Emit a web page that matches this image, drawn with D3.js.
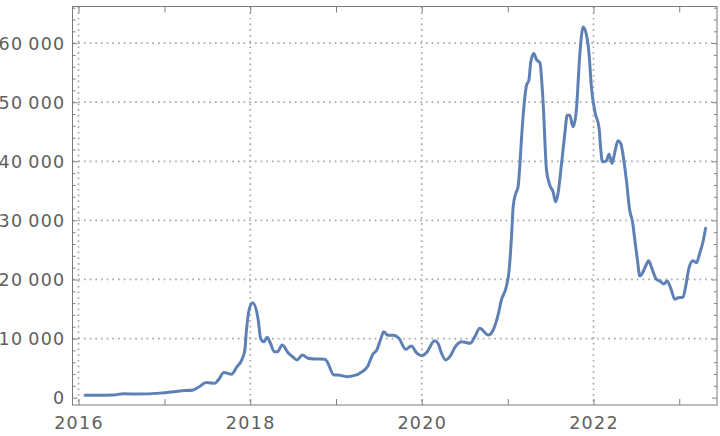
<!DOCTYPE html>
<html>
<head>
<meta charset="utf-8">
<script src="https://cdn.jsdelivr.net/npm/d3@7"></script>
<style>
  html, body { margin: 0; padding: 0; background: #fff; }
  svg { display: block; }
  .lbl text { font-family: "DejaVu Sans", sans-serif; font-size: 17.5px; fill: #5e5e5e; letter-spacing: 1.3px; }
</style>
</head>
<body>
<svg id="chart" width="720" height="436"></svg>
<script>
// ---- data ----
const dates = ["2016-01-29","2016-04-01","2016-05-28","2016-07-10","2016-09-11","2016-12-13",
"2017-03-08","2017-05-04","2017-05-25","2017-06-29","2017-08-03","2017-08-18","2017-09-11","2017-10-13","2017-11-04","2017-11-29","2017-12-09","2017-12-16","2017-12-27",
"2018-01-11","2018-02-04","2018-02-14","2018-02-28","2018-03-14","2018-03-28","2018-04-13","2018-04-27","2018-05-17","2018-06-11","2018-07-03","2018-07-19","2018-08-11","2018-09-04","2018-10-03","2018-11-14","2018-11-24","2018-12-23",
"2019-01-17","2019-02-15","2019-03-29","2019-04-12","2019-05-17","2019-06-05","2019-06-25","2019-07-13","2019-07-23","2019-08-10","2019-09-01","2019-09-26","2019-10-25","2019-11-18","2019-12-09",
"2020-01-01","2020-01-21","2020-02-25","2020-03-10","2020-03-25","2020-04-12","2020-04-29","2020-05-28","2020-06-18","2020-07-26","2020-08-14","2020-09-04","2020-10-10","2020-10-31","2020-11-21","2020-12-05","2020-12-24",
"2021-01-07","2021-01-17","2021-01-24","2021-02-04","2021-02-14","2021-02-22","2021-03-01","2021-03-15","2021-03-22","2021-04-01","2021-04-09","2021-04-22","2021-05-03","2021-05-18","2021-05-31","2021-06-15","2021-06-29","2021-07-13","2021-07-24","2021-08-03","2021-08-18","2021-09-01","2021-09-11","2021-09-22","2021-10-06","2021-10-20","2021-11-04","2021-11-18","2021-12-05","2021-12-13","2021-12-23",
"2022-01-07","2022-01-25","2022-01-31","2022-02-08","2022-02-25","2022-03-08","2022-03-21","2022-04-02","2022-04-15","2022-04-27","2022-05-10","2022-05-21","2022-06-04","2022-06-16","2022-06-26","2022-07-07","2022-07-17","2022-07-31","2022-08-11","2022-08-24","2022-09-04","2022-09-26","2022-10-14","2022-10-27","2022-11-10","2022-11-26","2022-12-13","2022-12-27",
"2023-01-17","2023-01-28","2023-02-11","2023-02-28","2023-03-15","2023-03-29","2023-04-12","2023-04-23"];

const prices = [380,410,450,650,600,760,
1130,1300,1750,2540,2430,3000,4230,3960,5140,6660,8060,11450,14830,
16070,13140,10040,9470,10210,9200,7780,7780,8910,7610,6830,6380,7220,6660,6540,6490,6090,3840,
3790,3550,3840,4130,5360,7220,8180,10210,11160,10550,10550,10040,8180,8740,7610,
7100,7610,9640,9200,7510,6380,6930,8910,9470,9200,10320,11740,10600,11450,13990,16520,18500,
21590,27230,32300,34560,35680,39640,44140,50900,52880,53720,56820,58240,57230,56650,50340,38500,35970,34830,33140,34560,39640,44710,47800,47800,45830,48650,58240,62740,60780,58240,52590,
48370,45560,42450,39910,40080,41210,39640,41600,43460,43020,40200,36810,31740,29760,26670,23290,20580,21300,22270,23170,22150,20020,19620,19230,19730,18500,16640,16910,
16980,18770,21880,23170,22830,24420,26380,28650];

const yearTicks = [2016,2017,2018,2019,2020,2021,2022,2023];
const yearLabels = [2016,2018,2020,2022];
const yMajor = [0,10000,20000,30000,40000,50000,60000];
const yGrid = [10000,20000,30000,40000,50000,60000];

// ---- layout ----
const L = 72.5, R = 717, T = 6.5, B = 405;
const svg = d3.select("#chart");
const parse = d3.utcParse("%Y-%m-%d");
const data = d3.zip(dates, prices).map(([d, v]) => ({ date: parse(d), value: v }));

// x anchored so 2016 and 2022 fall on their grid lines, then extended to the frame
const x0 = d3.scaleUtc().domain([Date.UTC(2016,0,1), Date.UTC(2022,0,1)]).range([78.5, 593.5]);
const x = d3.scaleUtc().domain([x0.invert(L), x0.invert(R)]).range([L, R]);
const y = d3.scaleLinear().domain([-1250, 66200]).range([B, T]);

const yearDate = yr => new Date(Date.UTC(yr, 0, 1));
const yMinor = d3.range(0, 66001, 2000).filter(v => v % 10000 !== 0);
const fmt = v => v === 0 ? "0" : d3.format(",")(v).replace(/,/g, "\u2009");

// grid lines
const grid = svg.append("g").attr("stroke", "#a8a8a8").attr("stroke-width", 1.7).attr("stroke-dasharray", "1.7 4");
grid.selectAll("line.h").data(yGrid).join("line").attr("class","h")
  .attr("x1", L).attr("x2", R).attr("y1", d => y(d)).attr("y2", d => y(d));
grid.selectAll("line.v").data(yearLabels).join("line").attr("class","v")
  .attr("y1", T).attr("y2", B).attr("x1", d => x(yearDate(d))).attr("x2", d => x(yearDate(d)));

// axes
function styleAxis(g) {
  g.select(".domain").remove();
  g.selectAll(".tick line").attr("stroke", "#808080").attr("stroke-width", 1);
}
const leftMaj = svg.append("g").attr("class","lbl").attr("transform", `translate(${L},0)`)
  .call(d3.axisLeft(y).tickValues(yMajor).tickSize(-5).tickPadding(7).tickFormat(fmt)).call(styleAxis);
leftMaj.selectAll("text").attr("dy", "0.36em");
svg.append("g").attr("transform", `translate(${L},0)`)
  .call(d3.axisLeft(y).tickValues(yMinor).tickSize(-3).tickFormat("")).call(styleAxis);
svg.append("g").attr("transform", `translate(${R},0)`)
  .call(d3.axisRight(y).tickValues(yMajor).tickSize(-5).tickFormat("")).call(styleAxis);
svg.append("g").attr("transform", `translate(${R},0)`)
  .call(d3.axisRight(y).tickValues(yMinor).tickSize(-3).tickFormat("")).call(styleAxis);

svg.append("g").attr("class","lbl").attr("transform", `translate(0,${B})`)
  .call(d3.axisBottom(x).tickValues(yearTicks.map(yearDate)).tickSize(-6).tickPadding(12)
    .tickFormat(d => yearLabels.includes(d.getUTCFullYear()) ? d.getUTCFullYear() : ""))
  .call(styleAxis);
svg.append("g").attr("transform", `translate(0,${T})`)
  .call(d3.axisTop(x).tickValues(yearTicks.map(yearDate)).tickSize(-6).tickFormat(""))
  .call(styleAxis);

// frame
svg.append("rect").attr("x", L).attr("y", T).attr("width", R - L).attr("height", B - T)
  .attr("fill", "none").attr("stroke", "#7a7a7a").attr("stroke-width", 1);

// series
const line = d3.line().x(d => x(d.date)).y(d => y(d.value)).curve(d3.curveMonotoneX);
svg.append("path").datum(data).attr("d", line)
  .attr("fill", "none").attr("stroke", "#5e81b5").attr("stroke-width", 3)
  .attr("stroke-linejoin", "round").attr("stroke-linecap", "round");
</script>
</body>
</html>
